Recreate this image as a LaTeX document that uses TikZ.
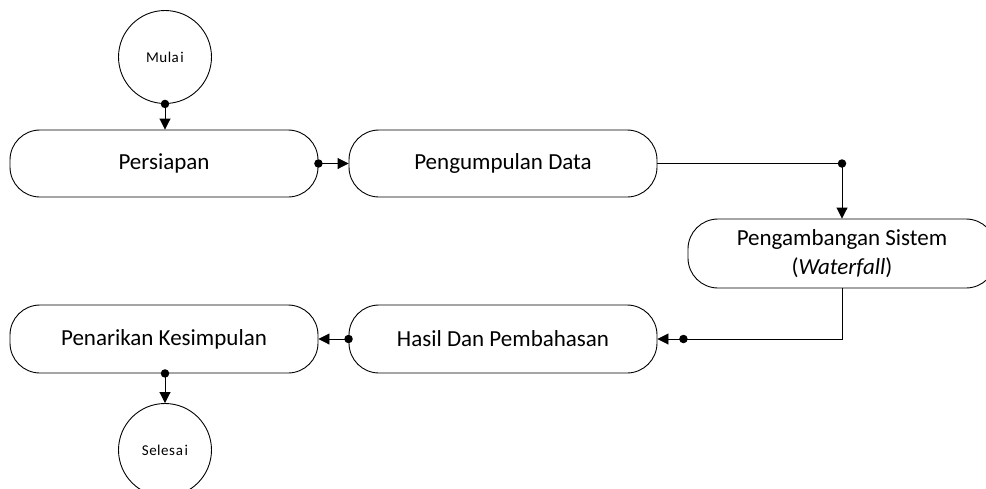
\documentclass[tikz,border=0pt]{standalone}
\usepackage{fontspec}
\setmainfont{Carlito}
\usetikzlibrary{arrows.meta}
\begin{document}
\begin{tikzpicture}[x=1pt,y=-1pt,
  box/.style={draw, line width=0.9pt, rounded corners=30pt, minimum width=308pt, minimum height=67pt, inner sep=0pt, align=center, font=\fontsize{23}{29}\selectfont},
  term/.style={draw, line width=0.9pt, circle, minimum size=93pt, inner sep=0pt, font=\fontsize{15}{17}\selectfont},
  conn/.style={line width=0.9pt, -{Triangle[length=11pt,width=11pt]}},
  plain/.style={line width=0.9pt},
  jdot/.style={circle, fill, inner sep=0pt, minimum size=8.5pt}]
\useasboundingbox (0,0) rectangle (986,488);
\node[term] (mulai) at (165,57) {M\kern0.5pt u\kern0.5pt l\kern0.5pt a\kern1.5pt i};
\node[box] (persiapan) at (164,163.5) {Persiapan};
\node[box] (pengumpulan) at (503,163.5) {Pengumpulan Data};
\node[box, minimum height=69pt] (waterfall) at (842,253.5) {Pengambangan Sistem\\(\textit{Waterfall})};
\node[box, minimum height=68pt] (hasil) at (503,339) {Hasil Dan Pembahasan};
\node[box, minimum height=68pt] (penarikan) at (164,339) {Penarikan Kesimpulan};
\node[term] (selesai) at (165,450) {S\kern0.5pt e\kern0.5pt l\kern0.5pt e\kern0.5pt s\kern1pt a\kern1.5pt i};
% connectors
\draw[conn] (mulai.south) -- (mulai.south |- persiapan.north);
\node[jdot] at (mulai.south) {};
\draw[conn] (persiapan.east) -- (pengumpulan.west);
\node[jdot] at (persiapan.east) {};
\coordinate (j1) at (waterfall.north |- pengumpulan.east);
\draw[plain] (pengumpulan.east) -- (j1);
\draw[conn] (j1) -- (waterfall.north);
\node[jdot] at (j1) {};
\coordinate (j2) at ([xshift=26pt]hasil.east);
\draw[plain] (waterfall.south) |- (j2);
\draw[conn] (j2) -- (hasil.east);
\node[jdot] at (j2) {};
\draw[conn] (hasil.west) -- (penarikan.east);
\node[jdot] at (hasil.west) {};
\coordinate (j3) at (penarikan.south -| selesai.north);
\draw[conn] (j3) -- (selesai.north);
\node[jdot] at (j3) {};
\end{tikzpicture}
\end{document}
